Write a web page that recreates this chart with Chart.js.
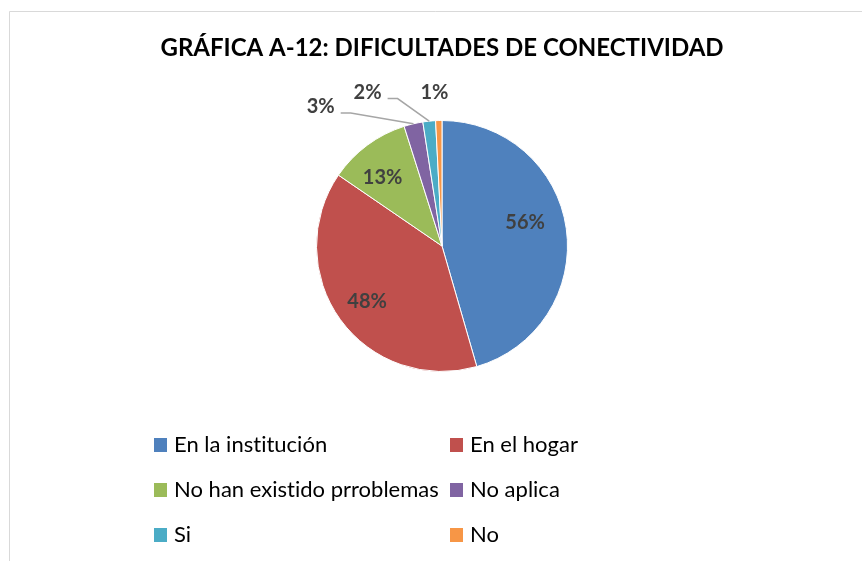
<!DOCTYPE html>
<html>
<head>
<meta charset="utf-8">
<script src="https://cdn.jsdelivr.net/npm/chart.js@4.4.1/dist/chart.umd.min.js"></script>
<style>
  html, body { margin: 0; padding: 0; background: #fff; }
  #wrap { width: 862px; height: 561px; }
</style>
</head>
<body>
<div id="wrap"><canvas id="pieChart" width="862" height="561"></canvas></div>
<script>
// Data
const titleText = 'GRÁFICA A-12: DIFICULTADES DE CONECTIVIDAD';
const categories = ['En la institución', 'En el hogar', 'No han existido prroblemas', 'No aplica', 'Si', 'No'];
const values = [56, 48, 13, 3, 2, 1];
const colors = ['#4F81BD', '#C0504D', '#9BBB59', '#8064A2', '#4BACC6', '#F79646'];

// label placement relative to each slice's centre point (dx, dy, leader line)
const labelOffsets = [
  { dx: 21, dy: -15 },
  { dx: -24, dy: 19 },
  { dx: -22, dy: -18 },
  { dx: -107, dy: -78, leader: true },
  { dx: -68, dy: -91, leader: true },
  { dx: -6, dy: -91 }
];

const FONT = 'Lato, "Open Sans", sans-serif';

// frame + title + labels + legend
const decorPlugin = {
  id: 'decor',
  beforeDraw(chart) {
    const ctx = chart.ctx;
    ctx.save();
    ctx.fillStyle = '#fff';
    ctx.fillRect(0, 0, chart.width, chart.height);
    ctx.strokeStyle = '#d9d9d9';
    ctx.lineWidth = 1;
    ctx.beginPath();
    ctx.moveTo(9.5, chart.height);
    ctx.lineTo(9.5, 11.5);
    ctx.lineTo(chart.width, 11.5);
    ctx.stroke();

    ctx.fillStyle = '#000';
    ctx.font = 'bold 24px ' + FONT;
    ctx.textAlign = 'center';
    ctx.textBaseline = 'middle';
    ctx.fillText(titleText, 442, 48);
    ctx.restore();
  },
  afterDraw(chart) {
    const ctx = chart.ctx;
    const meta = chart.getDatasetMeta(0);
    ctx.save();
    ctx.font = 'bold 20px ' + FONT;
    ctx.textAlign = 'center';
    ctx.textBaseline = 'middle';
    meta.data.forEach((arc, i) => {
      const p = arc.tooltipPosition();
      const off = labelOffsets[i];
      const x = p.x + off.dx, y = p.y + off.dy;
      if (off.leader) {
        const mid = (arc.startAngle + arc.endAngle) / 2;
        const ex = arc.x + Math.cos(mid) * arc.outerRadius;
        const ey = arc.y + Math.sin(mid) * arc.outerRadius;
        const w = ctx.measureText(values[i] + '%').width;
        const sx = x + w / 2 + 6, sy = y + 6;
        ctx.strokeStyle = '#a6a6a6';
        ctx.lineWidth = 1.5;
        ctx.beginPath();
        ctx.moveTo(sx, sy);
        ctx.lineTo(sx + 10, sy);
        ctx.lineTo(ex, ey);
        ctx.stroke();
      }
      ctx.fillStyle = '#404040';
      ctx.fillText(values[i] + '%', x, y);
    });

    // legend, two columns
    ctx.font = '22px ' + FONT;
    ctx.letterSpacing = '0.01px'; // stops the "ti" ligature
    ctx.textAlign = 'left';
    const colX = [154, 450];
    const rowY = [445, 490, 535];
    categories.forEach((name, i) => {
      const x = colX[i % 2], y = rowY[Math.floor(i / 2)];
      ctx.fillStyle = colors[i];
      ctx.fillRect(x, y - 7, 13, 14);
      ctx.fillStyle = '#000';
      ctx.fillText(name, x + 20, y);
    });
    ctx.restore();
  }
};

new Chart(document.getElementById('pieChart'), {
  type: 'pie',
  data: {
    labels: categories,
    datasets: [{
      data: values,
      backgroundColor: colors,
      borderColor: '#fff',
      borderWidth: 1
    }]
  },
  options: {
    responsive: false,
    animation: false,
    layout: { padding: { left: 316, right: 294, top: 120, bottom: 189 } },
    plugins: {
      legend: { display: false },
      tooltip: { enabled: false },
      title: { display: false }
    }
  },
  plugins: [decorPlugin]
});
</script>
</body>
</html>
